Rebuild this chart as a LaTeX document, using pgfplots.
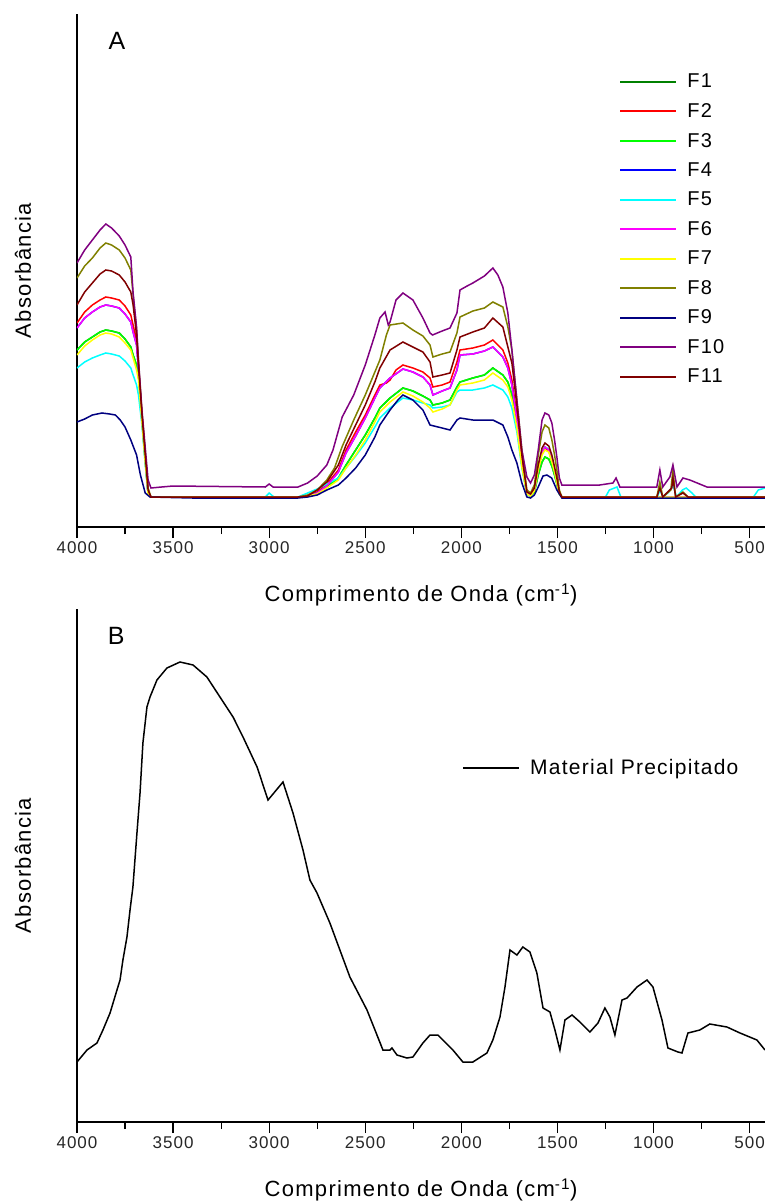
\documentclass[border=0pt]{standalone}
\usepackage{fontspec}
\setmainfont{Liberation Sans}[LetterSpace=6]
\usepackage{pgfplots}
\pgfplotsset{compat=1.18}
\definecolor{cFa}{RGB}{0,128,0}
\definecolor{cFb}{RGB}{255,0,0}
\definecolor{cFc}{RGB}{0,255,0}
\definecolor{cFd}{RGB}{0,0,255}
\definecolor{cFe}{RGB}{0,255,255}
\definecolor{cFf}{RGB}{255,0,255}
\definecolor{cFg}{RGB}{255,255,0}
\definecolor{cFh}{RGB}{128,128,0}
\definecolor{cFi}{RGB}{0,0,128}
\definecolor{cFj}{RGB}{128,0,128}
\definecolor{cFk}{RGB}{128,0,0}
\pgfplotsset{ftir/.style={
  scale only axis, width=688pt, height=513pt,
  x dir=reverse, xmin=420, xmax=4000, ymin=0, ymax=513,
  axis x line*=bottom, axis y line*=left,
  axis line style={line width=1.3pt, black},
  xtick={500,1000,...,4000}, minor xtick={750,1250,...,3750},
  ytick=\empty,
  tick align=outside,
  major tick length=11pt, minor tick length=7pt,
  every tick/.style={black, line width=1.2pt},
  xticklabel style={font=\fontsize{17}{20}\selectfont, text=black!85},
  /pgf/number format/assume math mode=true,
  /pgf/number format/1000 sep={},
  every axis x label/.style={at={(axis description cs:0.5,-0.1326)}, anchor=center, font=\fontsize{22}{26}\selectfont},
  every axis y label/.style={at={(axis description cs:-0.0785,0.5)}, rotate=90, anchor=center, font=\fontsize{22}{26}\selectfont},
  xlabel={Comprimento de Onda (cm\textsuperscript{-1})},
  ylabel={Absorbância},
  legend image code/.code={\draw[#1, line width=2pt] (0pt,0pt) -- (56pt,0pt);},
  every axis plot/.append style={line width=1.5pt},
}}
\begin{document}
\begin{tikzpicture}
\begin{axis}[ftir, at={(0pt,0pt)}, anchor=south west,
  legend style={draw=none, fill=none, at={(axis description cs:0.788,0.887)}, anchor=north west,
    font=\fontsize{20}{24}\selectfont, row sep=10.1pt, inner sep=0pt, cells={anchor=west},
    /tikz/every odd column/.append style={column sep=8pt}}]
% F1
\addplot[cFa] coordinates {(4000,177) (3960,185) (3920,190) (3880,195) (3850,197) (3820,196) (3780,194) (3750,188) (3720,180) (3708,172) (3690,162) (3680,152) (3662,107) (3646,69) (3630,33) (3615,30) (2850,30) (2800,31) (2750,34) (2700,40) (2640,49) (2600,62) (2550,77) (2500,92) (2450,109) (2424,119) (2371,129) (2304,139) (2252,136) (2200,131) (2163,127) (2148,122) (2100,124) (2059,127) (2023,140) (2007,145) (1940,149) (1880,152) (1836,159) (1784,152) (1758,145) (1737,132) (1711,102) (1685,62) (1659,33) (1640,31) (1620,35) (1600,52) (1580,65) (1565,70) (1545,68) (1529,61) (1515,52) (1503,43) (1490,33) (1477,30) (420,30)};
\addlegendentry{F1}
% F2
\addplot[cFb] coordinates {(4000,204) (3960,215) (3920,222) (3880,227) (3850,230) (3820,229) (3780,227) (3750,221) (3720,212) (3708,202) (3690,187) (3680,160) (3662,111) (3646,73) (3630,35) (3615,30) (2850,30) (2800,31) (2750,35) (2700,43) (2640,57) (2600,77) (2550,95) (2500,112) (2450,132) (2424,142) (2390,144) (2371,147) (2340,157) (2304,162) (2252,159) (2200,155) (2163,149) (2148,140) (2100,142) (2059,145) (2023,165) (2007,177) (1940,179) (1880,182) (1836,187) (1784,177) (1758,164) (1737,147) (1711,112) (1685,67) (1659,34) (1640,32) (1620,37) (1600,59) (1580,75) (1565,79) (1545,76) (1529,67) (1515,57) (1503,47) (1490,34) (1477,30) (420,30)};
\addlegendentry{F2}
% F3
\addplot[cFc] coordinates {(4000,177) (3960,185) (3920,190) (3880,195) (3850,197) (3820,196) (3780,194) (3750,188) (3720,180) (3708,172) (3690,162) (3680,152) (3662,107) (3646,69) (3630,33) (3615,30) (2850,30) (2800,31) (2750,34) (2700,40) (2640,49) (2600,62) (2550,77) (2500,92) (2450,109) (2424,119) (2371,129) (2304,139) (2252,136) (2200,131) (2163,127) (2148,122) (2100,124) (2059,127) (2023,140) (2007,145) (1940,149) (1880,152) (1836,159) (1784,152) (1758,145) (1737,132) (1711,102) (1685,62) (1659,33) (1640,31) (1620,35) (1600,52) (1580,65) (1565,70) (1545,68) (1529,61) (1515,52) (1503,43) (1490,33) (1477,30) (420,30)};
\addlegendentry{F3}
% F4
\addplot[cFd] coordinates {(4000,199) (3960,209) (3920,215) (3880,220) (3850,222) (3820,221) (3780,219) (3750,213) (3720,205) (3708,195) (3690,182) (3680,158) (3662,109) (3646,71) (3630,34) (3615,30) (2850,30) (2800,31) (2750,34) (2700,41) (2640,55) (2600,74) (2550,91) (2500,109) (2450,129) (2424,139) (2371,149) (2304,158) (2252,155) (2200,150) (2163,142) (2148,132) (2100,136) (2059,139) (2023,157) (2007,172) (1940,173) (1880,176) (1836,180) (1784,170) (1758,159) (1737,142) (1711,107) (1685,65) (1659,34) (1640,32) (1620,37) (1600,57) (1580,75) (1565,80) (1545,77) (1529,66) (1515,56) (1503,46) (1490,34) (1477,30) (420,30)};
\addlegendentry{F4}
% F5
\addplot[cFe] coordinates {(4000,159) (3960,165) (3920,169) (3880,172) (3850,174) (3820,173) (3780,171) (3750,166) (3720,159) (3708,152) (3690,142) (3680,132) (3662,102) (3646,65) (3630,33) (3615,30) (3020,30) (3000,34) (2975,30) (2850,30) (2800,34) (2750,38) (2700,43) (2640,49) (2600,59) (2550,71) (2500,84) (2450,100) (2424,109) (2371,119) (2304,129) (2252,127) (2200,124) (2163,122) (2148,119) (2100,120) (2059,122) (2023,135) (2007,137) (1940,137) (1880,139) (1836,142) (1784,137) (1758,130) (1737,119) (1711,95) (1685,59) (1659,33) (1640,31) (1620,37) (1600,60) (1580,76) (1565,80) (1545,78) (1529,67) (1515,56) (1503,45) (1490,34) (1477,30) (1250,30) (1230,37) (1190,40) (1170,30) (980,30) (967,37) (950,30) (920,35) (899,42) (880,30) (850,37) (830,39) (800,34) (780,30) (480,30) (455,37) (420,39)};
\addlegendentry{F5}
% F6
\addplot[cFf] coordinates {(4000,199) (3960,209) (3920,215) (3880,220) (3850,222) (3820,221) (3780,219) (3750,213) (3720,205) (3708,195) (3690,182) (3680,158) (3662,109) (3646,71) (3630,34) (3615,30) (2850,30) (2800,31) (2750,34) (2700,41) (2640,55) (2600,74) (2550,91) (2500,109) (2450,129) (2424,139) (2371,149) (2304,158) (2252,155) (2200,150) (2163,142) (2148,132) (2100,136) (2059,139) (2023,157) (2007,172) (1940,173) (1880,176) (1836,180) (1784,170) (1758,159) (1737,142) (1711,107) (1685,65) (1659,34) (1640,32) (1620,37) (1600,57) (1580,75) (1565,80) (1545,77) (1529,66) (1515,56) (1503,46) (1490,34) (1477,30) (420,30)};
\addlegendentry{F6}
% F7
\addplot[cFg] coordinates {(4000,172) (3960,181) (3920,187) (3880,192) (3850,194) (3820,193) (3780,190) (3750,184) (3720,177) (3708,169) (3690,157) (3680,147) (3662,105) (3646,67) (3630,33) (3615,30) (2850,30) (2800,31) (2750,33) (2700,39) (2640,47) (2600,59) (2550,72) (2500,87) (2450,105) (2424,115) (2371,125) (2304,135) (2252,131) (2200,125) (2163,119) (2148,115) (2100,118) (2059,122) (2023,137) (2007,142) (1940,144) (1880,147) (1836,154) (1784,147) (1758,140) (1737,127) (1711,99) (1685,60) (1659,33) (1640,31) (1620,36) (1600,57) (1580,72) (1565,77) (1545,75) (1529,65) (1515,55) (1503,44) (1490,33) (1477,30) (420,30)};
\addlegendentry{F7}
% F8
\addplot[cFh] coordinates {(4000,249) (3960,261) (3920,269) (3880,279) (3850,284) (3820,282) (3780,277) (3750,269) (3720,257) (3708,232) (3690,197) (3680,165) (3662,115) (3646,77) (3630,39) (3615,30) (2850,30) (2800,32) (2750,37) (2700,47) (2660,59) (2621,80) (2560,107) (2500,132) (2450,155) (2424,167) (2390,192) (2371,202) (2304,204) (2252,197) (2200,191) (2163,182) (2148,170) (2100,173) (2059,175) (2023,194) (2007,210) (1940,216) (1880,219) (1836,225) (1784,220) (1758,200) (1737,177) (1711,127) (1685,77) (1659,37) (1640,34) (1620,42) (1600,72) (1580,95) (1565,102) (1545,99) (1529,87) (1515,72) (1503,57) (1490,37) (1477,30) (983,30) (967,45) (952,30) (910,37) (899,57) (885,30) (847,35) (820,30) (420,30)};
\addlegendentry{F8}
% F9
\addplot[cFi] coordinates {(4000,105) (3960,108) (3920,112) (3870,114) (3830,113) (3800,112) (3775,107) (3750,100) (3720,87) (3690,72) (3670,52) (3645,34) (3620,30) (3400,29) (2850,29) (2800,30) (2750,32) (2700,37) (2640,42) (2600,49) (2550,59) (2500,72) (2450,90) (2424,102) (2371,117) (2330,127) (2304,132) (2252,127) (2200,117) (2163,102) (2100,99) (2059,97) (2023,107) (2007,109) (1940,107) (1880,107) (1836,107) (1784,102) (1758,90) (1737,77) (1711,64) (1685,44) (1659,30) (1640,29) (1620,32) (1600,40) (1575,51) (1555,52) (1530,49) (1503,37) (1477,29) (420,29)};
\addlegendentry{F9}
% F10
\addplot[cFj] coordinates {(4000,264) (3960,277) (3920,287) (3880,297) (3850,303) (3820,299) (3780,291) (3750,282) (3720,270) (3708,234) (3690,200) (3680,167) (3662,117) (3646,82) (3630,47) (3615,39) (3560,40) (3500,41) (3020,40) (3000,43) (2980,40) (2850,40) (2800,44) (2750,51) (2700,62) (2668,77) (2620,110) (2560,132) (2500,162) (2450,192) (2424,209) (2397,215) (2380,202) (2371,205) (2340,227) (2304,234) (2252,227) (2200,209) (2163,194) (2150,192) (2100,196) (2059,199) (2023,214) (2007,237) (1970,241) (1940,244) (1880,251) (1836,259) (1810,252) (1784,240) (1758,214) (1737,177) (1711,127) (1685,77) (1659,50) (1640,44) (1620,52) (1600,77) (1580,107) (1565,114) (1545,112) (1529,104) (1515,87) (1503,70) (1490,49) (1477,42) (1280,42) (1211,44) (1195,49) (1175,40) (983,40) (967,57) (952,40) (915,50) (899,62) (878,40) (847,49) (811,47) (722,40) (420,40)};
\addlegendentry{F10}
% F11
\addplot[cFk] coordinates {(4000,222) (3960,235) (3920,244) (3880,253) (3850,257) (3820,256) (3780,252) (3750,245) (3720,235) (3708,222) (3690,192) (3680,162) (3662,113) (3646,75) (3630,37) (3615,30) (2850,30) (2800,31) (2750,37) (2700,45) (2640,62) (2600,82) (2550,102) (2500,122) (2450,145) (2424,159) (2371,177) (2304,185) (2252,180) (2200,175) (2163,165) (2148,150) (2100,152) (2059,154) (2023,177) (2007,190) (1940,195) (1880,199) (1836,209) (1784,200) (1758,180) (1737,164) (1711,122) (1685,72) (1659,35) (1640,33) (1620,39) (1600,62) (1580,79) (1565,84) (1545,81) (1529,72) (1515,60) (1503,49) (1490,35) (1477,30) (983,30) (967,39) (952,30) (905,39) (899,49) (885,30) (847,34) (820,30) (420,30)};
\addlegendentry{F11}
\node[font=\fontsize{25}{30}\selectfont, anchor=center] at (rel axis cs:0.058,0.947) {A};
\end{axis}
\begin{axis}[ftir, at={(0pt,-595pt)}, anchor=south west,
  legend style={draw=none, fill=none, at={(axis description cs:0.5596,0.690)}, anchor=west,
    font=\fontsize{21}{25}\selectfont, inner sep=0pt, cells={anchor=west},
    /tikz/every odd column/.append style={column sep=8pt}}]
\addplot[black] coordinates {(4000,60) (3948,72) (3896,79) (3865,92) (3828,109) (3792,132) (3776,142) (3761,162) (3740,185) (3724,212) (3709,235) (3688,289) (3672,329) (3657,379) (3636,415) (3620,425) (3584,442) (3532,454) (3464,460) (3396,457) (3324,445) (3256,425) (3188,405) (3136,385) (3063,355) (3006,322) (2928,340) (2876,309) (2824,272) (2788,242) (2751,229) (2684,199) (2580,145) (2491,112) (2408,72) (2387,72) (2371,72) (2361,74) (2335,67) (2283,64) (2252,65) (2200,79) (2163,87) (2122,87) (2044,72) (1992,60) (1940,60) (1867,69) (1836,82) (1799,105) (1773,135) (1747,172) (1711,167) (1680,175) (1643,170) (1607,149) (1575,114) (1539,110) (1513,92) (1487,72) (1461,102) (1424,107) (1383,100) (1331,90) (1289,99) (1253,114) (1227,105) (1201,87) (1164,122) (1138,124) (1086,135) (1034,142) (1003,135) (956,102) (925,74) (873,70) (852,69) (821,89) (759,92) (707,98) (618,95) (550,89) (462,82) (420,72)};
\addlegendentry{Material Precipitado}
\node[font=\fontsize{25}{30}\selectfont, anchor=center] at (rel axis cs:0.057,0.947) {B};
\end{axis}
\pgfresetboundingbox
\path[use as bounding box] (-77pt,527pt) rectangle (688pt,-676pt);
\end{tikzpicture}
\end{document}
